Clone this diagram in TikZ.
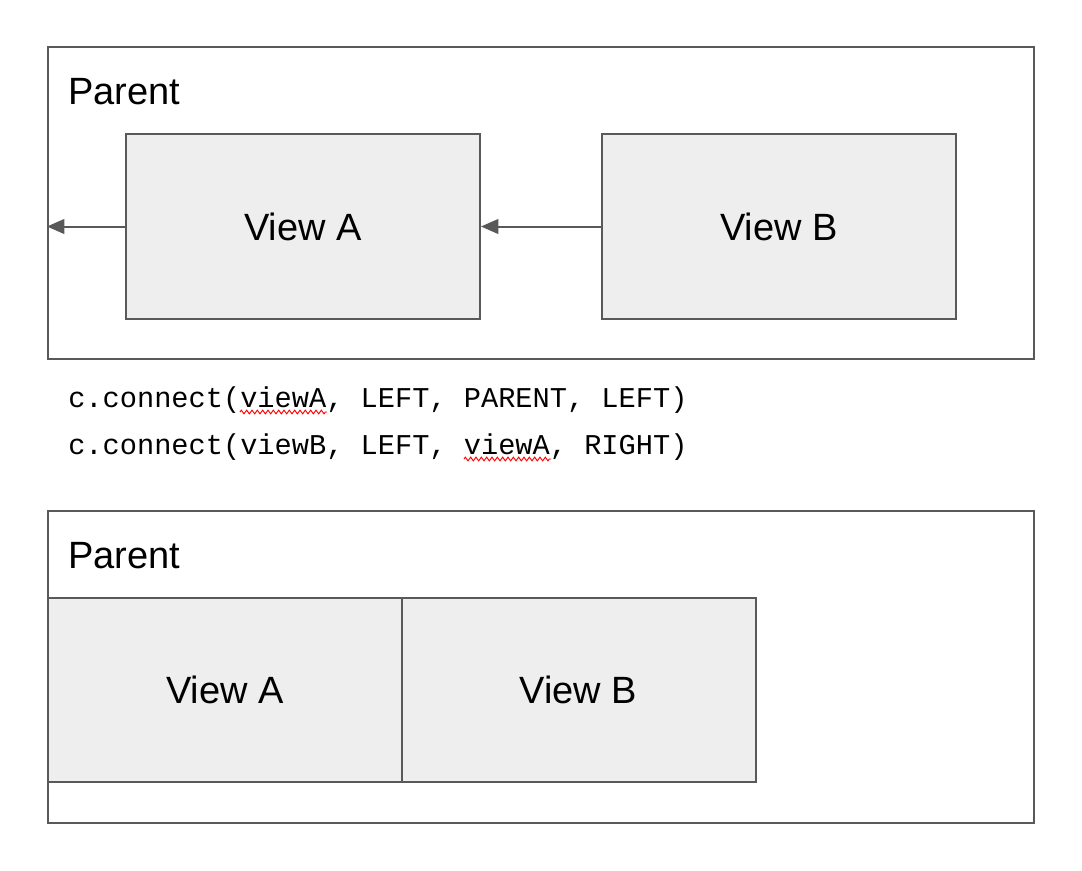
\documentclass[tikz,border=0pt]{standalone}
\usepackage{fontspec}
\setmainfont{Liberation Sans}
\setmonofont{Liberation Mono}
\usetikzlibrary{arrows.meta, decorations.pathmorphing}
\definecolor{edgegray}{HTML}{595959}
\definecolor{viewfill}{HTML}{EEEEEE}
\tikzset{headarrow/.style = {-{Triangle[length=13pt, width=11pt]}, draw=edgegray, line width=1.5pt}}
\tikzset{parentbox/.style = {draw=edgegray, line width=1.5pt, rectangle,
                             minimum width=739.5pt, minimum height=234pt, inner sep=0pt}}
\tikzset{viewbox/.style = {draw=edgegray, fill=viewfill, line width=1.5pt, rectangle,
                           minimum width=265.5pt, minimum height=138.5pt, inner sep=0pt,
                           font=\fontsize{28.5}{34}\selectfont}}
\tikzset{squiggle/.style = {red, line width=.7pt,
                            decorate, decoration={zigzag, segment length=4pt, amplitude=1.4pt}}}

\begin{document}
\begin{tikzpicture}[x=0.75pt, y=-0.75pt]
    \useasboundingbox (0,0) rectangle (1082,871);

    % top: views chained to the left
    \node (parentT) at (541,203) [parentbox] {};
    \node (parentTlabel) at (68,104) [anchor=base west, inner sep=0pt,
        font=\fontsize{28.5}{34}\selectfont] {Parent};
    \node (viewAT) at (303,226.5) [viewbox] {View A};
    \node (viewBT) at (779,226.5) [viewbox] {View B};

    \draw[headarrow] (viewAT.west) to (viewAT.west -| parentT.west);
    \draw[headarrow] (viewBT.west) to (viewAT.east);

    % code
    \node (lineone) at (68,407) [anchor=base west,
        font=\ttfamily\fontsize{21.5}{26}\selectfont, inner sep=0pt]
        {c.connect(viewA, LEFT, PARENT, LEFT)};
    \node (linetwo) at (68,454) [anchor=base west,
        font=\ttfamily\fontsize{21.5}{26}\selectfont, inner sep=0pt]
        {c.connect(viewB, LEFT, viewA, RIGHT)};
    \draw[squiggle] (240,412) -- (327,412);
    \draw[squiggle] (464,459) -- (551,459);

    % bottom: result
    \node (parentB) at (541,667) [parentbox] {};
    \node (parentBlabel) at (68,568) [anchor=base west, inner sep=0pt,
        font=\fontsize{28.5}{34}\selectfont] {Parent};
    \node (viewAB) at (225,690) [viewbox] {View A};
    \node (viewBB) at (578.5,690) [viewbox] {View B};
\end{tikzpicture}
\end{document}
